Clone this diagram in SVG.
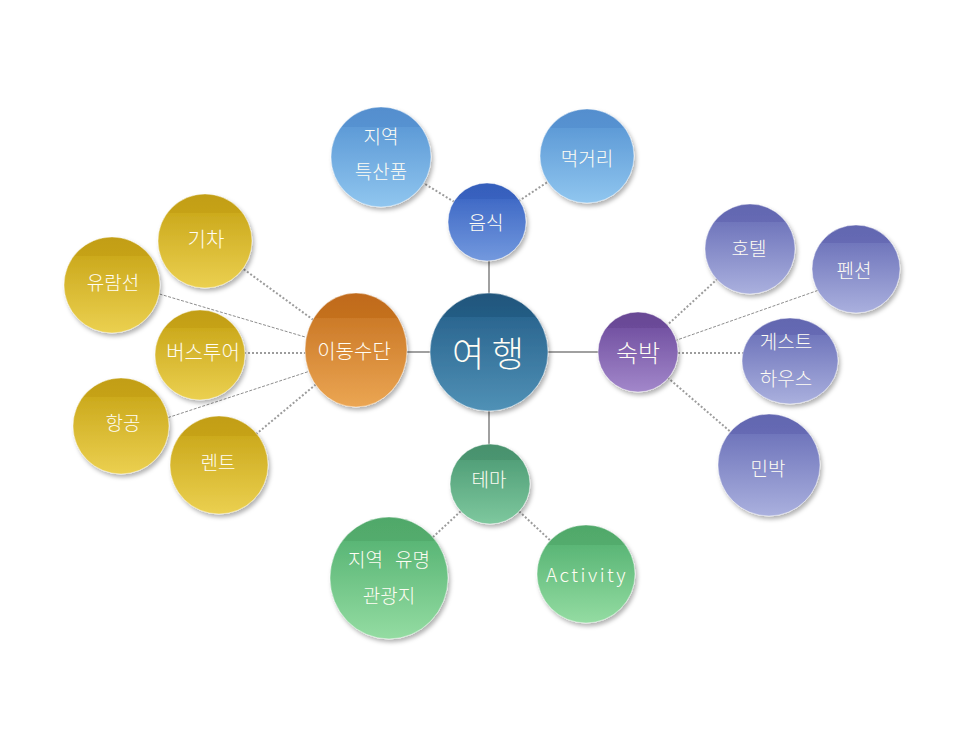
<svg xmlns="http://www.w3.org/2000/svg" width="965" height="732" viewBox="0 0 965 732">
<defs>
<filter id="sh" x="-20%" y="-20%" width="150%" height="150%">
<feDropShadow dx="2" dy="3" stdDeviation="2" flood-color="#000" flood-opacity="0.3"/>
</filter>
<linearGradient id="gC" x1="0" y1="0" x2="0" y2="1"><stop offset="0" stop-color="#21567c"/><stop offset="0.2" stop-color="#245c84"/><stop offset="0.2" stop-color="#2b6690"/><stop offset="1" stop-color="#5091b6"/></linearGradient>
<linearGradient id="gO" x1="0" y1="0" x2="0" y2="1"><stop offset="0" stop-color="#c06a1a"/><stop offset="0.22" stop-color="#c4701f"/><stop offset="0.22" stop-color="#cc7a28"/><stop offset="1" stop-color="#eba653"/></linearGradient>
<linearGradient id="gY" x1="0" y1="0" x2="0" y2="1"><stop offset="0" stop-color="#c29e12"/><stop offset="0.2" stop-color="#c6a215"/><stop offset="0.2" stop-color="#ccaa1d"/><stop offset="1" stop-color="#ebd050"/></linearGradient>
<linearGradient id="gP" x1="0" y1="0" x2="0" y2="1"><stop offset="0" stop-color="#684794"/><stop offset="0.2" stop-color="#6c4b99"/><stop offset="0.2" stop-color="#7453a3"/><stop offset="1" stop-color="#a287ca"/></linearGradient>
<linearGradient id="gV" x1="0" y1="0" x2="0" y2="1"><stop offset="0" stop-color="#6266b0"/><stop offset="0.2" stop-color="#666ab4"/><stop offset="0.2" stop-color="#7076bc"/><stop offset="1" stop-color="#aab0de"/></linearGradient>
<linearGradient id="gB" x1="0" y1="0" x2="0" y2="1"><stop offset="0" stop-color="#355ebb"/><stop offset="0.2" stop-color="#3862bf"/><stop offset="0.2" stop-color="#406ac6"/><stop offset="1" stop-color="#7399de"/></linearGradient>
<linearGradient id="gL" x1="0" y1="0" x2="0" y2="1"><stop offset="0" stop-color="#538ece"/><stop offset="0.2" stop-color="#5792d1"/><stop offset="0.2" stop-color="#5e9bd7"/><stop offset="1" stop-color="#90c6ef"/></linearGradient>
<linearGradient id="gT" x1="0" y1="0" x2="0" y2="1"><stop offset="0" stop-color="#48916d"/><stop offset="0.2" stop-color="#4b9570"/><stop offset="0.2" stop-color="#52a079"/><stop offset="1" stop-color="#7ec89e"/></linearGradient>
<linearGradient id="gG" x1="0" y1="0" x2="0" y2="1"><stop offset="0" stop-color="#50a86a"/><stop offset="0.2" stop-color="#53ac6d"/><stop offset="0.2" stop-color="#5ab676"/><stop offset="1" stop-color="#94dca2"/></linearGradient>
</defs>
<style>
.n{filter:url(#sh);stroke:#ffffff;stroke-opacity:0.45;stroke-width:1}
text{font-family:"Noto Sans CJK KR","Noto Sans",sans-serif;font-weight:300;fill:#fffdf4;text-anchor:middle}
.t{font-size:19px}
.solid{stroke:#a0a0a0;stroke-width:2;fill:none}
.dot{stroke:#9c9c9c;stroke-width:2;stroke-dasharray:2 2;fill:none}
.fine{stroke:#8e8e8e;stroke-width:1;stroke-dasharray:3 1.5;fill:none}
</style>
<rect width="965" height="732" fill="#ffffff"/>
<g id="connectors">
<line class="solid" x1="489" y1="222" x2="489" y2="484"/>
<line class="solid" x1="356" y1="352" x2="638" y2="352"/>
<line class="dot" x1="205" y1="241" x2="356" y2="351"/>
<line class="fine" x1="112" y1="280" x2="356" y2="352"/>
<line class="dot" x1="200" y1="353" x2="356" y2="353"/>
<line class="fine" x1="121" y1="433" x2="356" y2="356"/>
<line class="dot" x1="219" y1="465" x2="356" y2="351"/>
<line class="dot" x1="750" y1="249" x2="638" y2="352"/>
<line class="fine" x1="856" y1="277" x2="640" y2="353"/>
<line class="dot" x1="638" y1="353" x2="790" y2="353"/>
<line class="dot" x1="769" y1="465" x2="638" y2="352"/>
<line class="dot" x1="381" y1="157" x2="487" y2="222"/>
<line class="dot" x1="587" y1="156" x2="487" y2="222"/>
<line class="dot" x1="490" y1="484" x2="389" y2="578"/>
<line class="dot" x1="490" y1="484" x2="586" y2="574"/>
</g>
<g id="n-gicha"><circle class="n" cx="205" cy="241" r="47" fill="url(#gY)"/><text class="t" x="206" y="247" style="font-size:20px">기차</text></g>
<g id="n-yuramseon"><circle class="n" cx="112" cy="285" r="48" fill="url(#gY)"/><text class="t" x="113" y="290">유람선</text></g>
<g id="n-bustour"><circle class="n" cx="200" cy="355" r="45" fill="url(#gY)"/><text class="t" x="203" y="360" style="font-size:20px">버스투어</text></g>
<g id="n-hanggong"><circle class="n" cx="121" cy="426" r="48" fill="url(#gY)"/><text class="t" x="123" y="430">항공</text></g>
<g id="n-rent"><circle class="n" cx="219" cy="465" r="49" fill="url(#gY)"/><text class="t" x="218" y="470">렌트</text></g>
<g id="n-idongsudan"><ellipse class="n" cx="356" cy="350" rx="51" ry="57" fill="url(#gO)"/><text x="354" y="359" style="font-size:20px">이동수단</text></g>
<g id="n-eumsik"><circle class="n" cx="487" cy="222" r="39" fill="url(#gB)"/><text class="t" x="486" y="230">음식</text></g>
<g id="n-teuksanpum"><circle class="n" cx="381" cy="157" r="50" fill="url(#gL)"/><text class="t" x="381" y="144">지역</text><text class="t" x="381" y="179">특산품</text></g>
<g id="n-meokgeori"><circle class="n" cx="587" cy="156" r="47" fill="url(#gL)"/><text class="t" x="587" y="166">먹거리</text></g>
<g id="n-center"><circle class="n" cx="489" cy="352" r="59" fill="url(#gC)"/><text x="488" y="367" style="font-size:35px">여 행</text></g>
<g id="n-sukbak"><circle class="n" cx="638" cy="352" r="40" fill="url(#gP)"/><text x="638" y="362" style="font-size:24px">숙박</text></g>
<g id="n-hotel"><circle class="n" cx="750" cy="249" r="45" fill="url(#gV)"/><text class="t" x="749" y="256">호텔</text></g>
<g id="n-pension"><circle class="n" cx="856" cy="269" r="44" fill="url(#gV)"/><text class="t" x="854" y="278">펜션</text></g>
<g id="n-guesthouse"><ellipse class="n" cx="790" cy="361" rx="48" ry="43" fill="url(#gV)"/><text class="t" x="786" y="349">게스트</text><text class="t" x="786" y="386">하우스</text></g>
<g id="n-minbak"><circle class="n" cx="769" cy="465" r="51" fill="url(#gV)"/><text class="t" x="768" y="476">민박</text></g>
<g id="n-tema"><circle class="n" cx="490" cy="484" r="40" fill="url(#gT)"/><text class="t" x="489" y="487">테마</text></g>
<g id="n-gwangwangji"><ellipse class="n" cx="389" cy="578" rx="59" ry="61" fill="url(#gG)"/><text class="t" x="389" y="567" style="word-spacing:8px">지역 유명</text><text class="t" x="389" y="603">관광지</text></g>
<g id="n-activity"><circle class="n" cx="586" cy="574" r="49" fill="url(#gG)"/><text class="t" x="587" y="582" style="letter-spacing:2.5px">Activity</text></g>
</svg>
